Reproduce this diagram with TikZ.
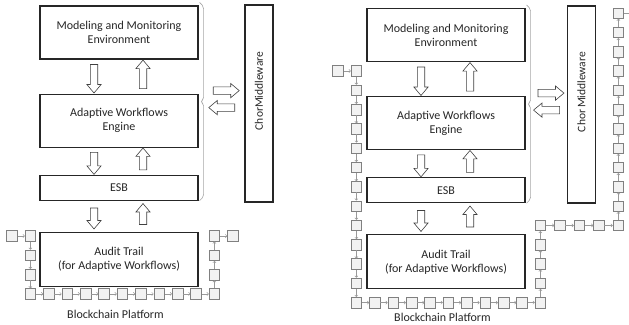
\documentclass[tikz,border=0pt]{standalone}
\usepackage{fontspec}
\setmainfont{Carlito}
\usetikzlibrary{arrows.meta,positioning,shapes.arrows,calc}

\begin{document}
\begin{tikzpicture}[
  x=1pt, y=-1pt,
  layer/.style={draw=black!85, text=black!85, line width=1.1pt, minimum width=158pt, align=center, font=\fontsize{12pt}{14pt}\selectfont},
  fat/.style={single arrow, draw=black!75, fill=white, line width=0.6pt, inner xsep=0pt, inner ysep=3.4pt, single arrow head extend=3.4pt, single arrow tip angle=80},
  brace/.style={draw=black!35, line width=0.6pt, rounded corners=2pt},
  blk/.style={draw=black!50, fill=black!5, line width=0.6pt, minimum size=10.5pt, inner sep=0pt},
  link/.style={draw=black!40, line width=0.5pt, -{Straight Barb[length=1.6pt,width=3.2pt]}},
  toR/.style={right=7.3pt of #1},
  toRR/.style={right=8.4pt of #1},
  toD/.style={below=8.2pt of #1},
  toU/.style={above=8.2pt of #1}
]
\useasboundingbox (0,0) rectangle (629,324);

% the two panels: before and after the chain grows
\foreach \p/\dx/\dy/\cx/\cy/\cl in {l/0/0/259/103.5/ChorMiddleware, r/327/2.5/581.5/104.5/{Chor\,Middleware}} {
  \node[layer, minimum height=53pt] (\p-mme) at (119+\dx, 32.5+\dy) {Modeling and Monitoring\\Environment};
  \node[layer, minimum height=53pt, below=34pt of \p-mme] (\p-awe) {Adaptive Workflows\\Engine};
  \node[layer, minimum height=25pt, below=27pt of \p-awe] (\p-esb) {ESB};
  \node[layer, minimum height=54pt, below=31pt of \p-esb] (\p-audit) {Audit Trail\\(for Adaptive Workflows)};
  \node[layer, minimum width=28pt, minimum height=197pt] (\p-chor) at (\cx, \cy) {};
  \node[rotate=90, text=black!85, font=\fontsize{11.5pt}{13pt}\selectfont] (\p-chorlbl) at ($(\p-chor.center)+(0,-12.5)$) {\cl};
  \node[text=black!85, font=\fontsize{12pt}{14pt}\selectfont] (\p-bcp) at ($(\p-audit.south)+(-3.5,28)$) {Blockchain Platform};

  % up and down flows
  \node[fat, rotate=-90, minimum height=28.5pt] (\p-d1) at ($(\p-mme.south)!.5!(\p-awe.north)+(-25,0)$) {};
  \node[fat, rotate=90, minimum height=28.5pt] (\p-u1) at ($(\p-mme.south)!.5!(\p-awe.north)+(24,0)$) {};
  \node[fat, rotate=-90, minimum height=22pt] (\p-d2) at ($(\p-awe.south)!.5!(\p-esb.north)+(-25,0)$) {};
  \node[fat, rotate=90, minimum height=22pt] (\p-u2) at ($(\p-awe.south)!.5!(\p-esb.north)+(24,0)$) {};
  \node[fat, rotate=-90, minimum height=21pt] (\p-d3) at ($(\p-esb.south)!.5!(\p-audit.north)+(-25,0)$) {};
  \node[fat, rotate=90, minimum height=21pt] (\p-u3) at ($(\p-esb.south)!.5!(\p-audit.north)+(24,0)$) {};

  % brace round the upper three layers
  \coordinate (\p-bt) at ([xshift=5pt,yshift=3pt]\p-mme.north east);
  \coordinate (\p-bb) at (\p-bt |- \p-esb.south);
  \draw[brace] ([xshift=-4pt]\p-bt) -- ([yshift=-4pt]\p-bt) -- ($(\p-bt)!.5!(\p-bb)+(0,-2)$) -- ++(-3,2) -- ++(3,2)
    -- ([yshift=4pt]\p-bb) -- ([xshift=-4pt]\p-bb);

  % exchange with the middleware
  \coordinate (\p-hm) at ($(\p-bt |- \p-awe.center)!.5!(\p-chor.west |- \p-awe.center)$);
  \node[fat, minimum height=26pt] (\p-hr) at ($(\p-hm)+(0,-30)$) {};
  \node[fat, rotate=180, minimum height=26pt] (\p-hl) at ($(\p-hm)+(0,-13)$) {};
}

% blockchain, left panel
\node[blk] (lc1) at (12,236) {};
\foreach \d [count=\i from 2] in {toR,toD,toD,toD,toR,toR,toR,toR,toR,toR,toR,toR,toR,toR,toU,toU,toU,toR} {
  \pgfmathtruncatemacro\j{\i-1}
  \node[blk, \d=lc\j] (lc\i) {};
  \draw[link] (lc\j) -- (lc\i);
}

% blockchain, right panel
\node[blk] (rc1) at (338,71) {};
\foreach \d [count=\i from 2] in {toR,toD,toD,toD,toD,toD,toD,toD,toD,toD,toD,toD,toD,
    toR,toR,toR,toR,toR,toR,toR,toR,toR,toR,toU,toU,toU,toU,toRR,toRR,toRR,toRR,
    toU,toU,toU,toU,toU,toU,toU,toU,toU,toU,toU,toR} {
  \pgfmathtruncatemacro\j{\i-1}
  \node[blk, \d=rc\j] (rc\i) {};
  \draw[link] (rc\j) -- (rc\i);
}
\end{tikzpicture}
\end{document}
